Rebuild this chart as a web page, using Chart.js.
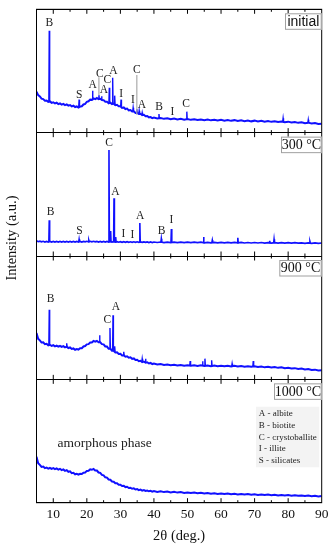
<!DOCTYPE html>
<html><head><meta charset="utf-8">
<script src="https://cdn.jsdelivr.net/npm/chart.js@4.4.1/dist/chart.umd.min.js"></script>
<style>html,body{margin:0;padding:0;background:#fff;}canvas{display:block;}</style>
</head><body>
<canvas id="c" width="335" height="550"></canvas>
<script>
// ---- data (intensity in arbitrary units, each panel 0..H) ----
const H = 123.35;
const xTicks = [10,20,30,40,50,60,70,80,90];
const minorTicks = [15,25,35,45,55,65,75,85];
const panelNames = ['1000 °C','900 °C','300 °C','initial']; // bottom -> top
const baseAngles = [5,5.5,6,6.5,7,7.5,8,8.5,9,9.5,10,10.5,11,11.5,12,12.5,13,13.5,14,14.5,15,15.5,16,16.5,17,17.5,18,18.5,19,19.5,20,20.5,21,21.5,22,22.5,23,23.5,24,24.5,25,25.5,26,26.5,27,27.5,28,28.5,29,29.5,30,30.5,31,31.5,32,32.5,33,33.5,34,34.5,35,35.5,36,36.5,37,37.5,38,38.5,39,39.5,40,
41,42,43,44,45,46,47,48,49,50,51,52,53,54,55,56,57,58,59,60,61,62,63,64,65,66,67,68,69,70,71,72,73,74,75,76,77,78,79,80,81,82,83,84,85,86,87,88,89,90];

const baseInitial = [41,37.5,36.2,34,33.6,32,32.2,30.8,31.2,29.8,30.4,29.2,29.9,28.6,29.3,28.1,28.8,27.6,28.3,27,27.6,26.3,26.9,25.6,26.2,25,26.1,26.4,28.2,28.8,30.9,31.4,33,32.8,34.2,33.5,34.6,33.4,33.9,32.6,32.5,30.9,31,29.4,30,28.6,29,27.5,27.9,26.3,26.4,24.8,25.2,23.6,24,22.3,22.6,21.1,21.4,19.8,20,18.6,18.9,17.5,17.8,16.4,16.6,15.3,15.6,14.5,15,
14.2,14.7,13.8,14.4,13.5,14.1,13.2,13.8,13,13.6,12.8,13.4,12.6,13.2,12.5,13.1,12.3,12.9,12.1,12.8,11.9,12.6,11.8,12.5,11.6,12.4,11.5,12.2,11.3,12,11.1,11.8,10.9,11.6,10.8,11.4,10.6,11.2,10.4,11,10.1,10.7,9.8,10.4,9.5,10,9.2,9.6,8.7,9];
const base300 = [15.2,14.3,14.8,14.1,14.7,14,14.6,14,14.6,14,14.6,13.9,14.5,13.9,14.5,13.9,14.5,13.9,14.5,13.9,14.5,13.9,14.5,13.9,14.5,14,14.6,14,14.6,14.1,14.7,14.1,14.7,14.1,14.7,14.1,14.6,14,14.6,14,14.5,13.9,14.5,13.9,14.5,13.9,14.4,13.8,14.4,13.8,14.3,13.7,14.3,13.7,14.3,13.7,14.2,13.7,14.2,13.6,14.2,13.6,14.1,13.6,14.1,13.6,14.1,13.5,14,13.5,14,
13.5,14,13.4,13.9,13.4,13.9,13.4,13.9,13.3,13.8,13.3,13.8,13.3,13.8,13.2,13.7,13.2,13.7,13.2,13.7,13.1,13.6,13.1,13.6,13.1,13.6,13,13.5,13,13.5,13,13.5,12.9,13.4,12.9,13.4,12.9,13.4,12.8,13.3,12.8,13.3,12.8,13.2,12.7,13.2,12.7,13.1,12.6,13];
const base900 = [46.3,40.5,39,36.8,37,35.2,35.5,34,34.6,33.4,34.1,33,33.8,32.7,33.5,32.4,33.2,32,32.7,31.3,31.9,30.4,30.9,29.6,30.3,29.8,31.1,31.2,32.9,33.3,35,35.2,36.9,36.8,38.4,37.6,38.5,37,37,35.2,35,32.9,32.8,30.6,30.8,28.6,28.5,26.8,27,25.3,25.5,23.8,24,22.6,23,21.6,22,20.5,20.9,19.3,19.6,18.2,18.6,17.3,17.8,16.6,17.1,15.9,16.4,15.3,15.8,
14.8,15.3,14.4,14.9,14.1,14.6,13.8,14.4,13.6,14.2,13.5,14.1,13.4,14,13.3,13.9,13.2,13.8,13.1,13.7,13,13.6,12.9,13.5,12.8,13.4,12.7,13.2,12.5,13,12.3,12.8,12,12.6,11.8,12.3,11.5,12,11.2,11.6,10.8,11.2,10.3,10.8,9.9,10.3,9.4,9.7,8.8,9.1];
const base1000 = [46,39.5,37.8,35.8,36.1,34.6,35.1,34,34.9,33.8,34.5,33.5,34.3,33.1,33.9,32.6,33.3,31.9,32.6,30.9,31.3,29.5,29.9,28.4,28.9,28,28.9,28.7,30,30.2,31.8,31.9,33.3,32.9,33.8,32.3,32.2,30.2,29.8,27.8,27.4,25.4,25.1,23.2,23,21.2,21,19.4,19.4,17.9,18,16.7,16.9,15.6,15.9,14.7,15,13.9,14.3,13.2,13.6,12.6,13.1,12.1,12.6,11.7,12.2,11.4,11.9,11.1,11.6,
10.8,11.4,10.6,11.1,10.3,10.9,10.1,10.6,9.8,10.3,9.6,10.1,9.4,9.9,9.2,9.7,9,9.5,8.8,9.3,8.6,9.1,8.4,8.9,8.3,8.8,8.1,8.6,7.9,8.4,7.8,8.3,7.6,8.1,7.5,8,7.3,7.8,7.2,7.6,7,7.5,6.9,7.3,6.7,7.1,6.5,6.9,6.3,6.7];

// peaks: angle, base, top
const pkInitialX = [8.8,17.7,21.7,23.6,24.4,26.7,27.7,28.3,30.2,33.8,34.9,35.6,36.5,41.5,49.8,78.5,86];
const pkInitialB = [31.5,25.5,33,33.8,33,30,29,28,26,21.3,20,19,17.8,14.4,13.3,11,10];
const pkInitialT = [102,33,42,37.5,36.5,45,55,37,33,24.8,23.5,22,20,18.7,21,14.3,12.8];
const pk300X = [8.8,17.7,20.6,26.6,27.1,28.1,28.6,35.8,42.2,45.2,54.8,57.4,65,74.5,75.8,86.5];
const pk300B = [14.3,14.2,14.2,14.2,14.2,14.1,14.1,14,13.9,13.8,13.6,13.6,13.4,13.2,13.2,13];
const pk300T = [35.7,16.7,15.6,106,25,57.7,19,33,17.3,27,19,15.8,18.3,15.2,16.7,14.5];
const pk900X = [8.8,14,23.8,26.9,27.8,28.3,31,36.5,37.5,50.8,54.5,55.2,57.2,63.3,69.6];
const pk900B = [34.5,32.7,37.5,30.8,29,28,24,17.5,17,14,14,13.8,13.5,13.2,12.8];
const pk900T = [69.7,36,44,51.3,64,33,27.5,20.5,20.5,18.3,18,20.7,19,15.7,18.3];

// gray connector lines (initial panel): angle, from, to
const connX = [23.6,34.9];
const connFrom = [55.4,57.7];
const connTo = [37.5,18];

// peak labels per panel
const lblInitial = {t:['B','S','A','C','A','C','A','I','I','C','A','B','I','C'],
  x:[8.8,17.7,21.7,23.9,25.1,26.1,27.9,30.2,33.7,34.9,36.4,41.5,45.5,49.6],
  y:[109.4,37.7,47.7,58.7,42.7,52.7,62,38.4,32.7,62.7,27.7,25.4,21,28.4]};
const lbl300 = {t:['B','S','C','A','I','I','A','B','I'],
  x:[9.2,17.8,26.6,28.5,30.9,33.6,35.9,42.3,45.2],
  y:[44.3,25,113.3,64.3,22.3,21,40,25,35.7]};
const lbl900 = {t:['B','C','A'], x:[9.2,26.1,28.7], y:[80.7,59,72.3]};
const amorph = {t:'amorphous phase', x:25.3, y:59.4};
const legendLines = ['A - albite','B - biotite','C - crystoballite','I - illite','S - silicates'];

// ---- build datasets ----
const BLUE = '#1010ff';
function lineData(base,k){ return baseAngles.map((a,i)=>({x:a,y:base[i]+k*H})); }
function peakData(px,pb,pt,k){
  const out=[];
  px.forEach((a,i)=>{ out.push({x:a-0.12,y:pb[i]+k*H},{x:a,y:pt[i]+k*H},{x:a+0.12,y:pb[i]+k*H},{x:a+0.12,y:null}); });
  return out;
}
function connData(k){
  const out=[];
  connX.forEach((a,i)=>{ out.push({x:a,y:connFrom[i]+k*H},{x:a,y:connTo[i]+k*H},{x:a,y:null}); });
  return out;
}
const ds = (data,color,w)=>({data,borderColor:color,borderWidth:w,pointRadius:0,fill:false,tension:0,spanGaps:false});
const datasets = [
  ds(lineData(base1000,0),BLUE,2),
  ds(lineData(base900,1),BLUE,2),
  ds(peakData(pk900X,pk900B,pk900T,1),BLUE,1.4),
  ds(lineData(base300,2),BLUE,1.7),
  ds(peakData(pk300X,pk300B,pk300T,2),BLUE,1.6),
  ds(connData(3),'#aaaaaa',1.2),
  ds(lineData(baseInitial,3),BLUE,2),
  ds(peakData(pkInitialX,pkInitialB,pkInitialT,3),BLUE,1.4)
];

const SERIF = '"Liberation Serif", "Times New Roman", serif';
const deco = {
  id:'deco',
  afterDraw(chart){
    const {ctx, chartArea:ca, scales:{x:xs,y:ys}} = chart;
    ctx.save();
    // frame
    ctx.strokeStyle='#000'; ctx.lineWidth=1;
    ctx.strokeRect(ca.left,ca.top,ca.right-ca.left,ca.bottom-ca.top);
    // inward ticks
    const tick=(v,len)=>{
      const px=xs.getPixelForValue(v);
      for(let k=0;k<=4;k++){
        const py=ys.getPixelForValue(k*H);
        ctx.beginPath();
        if(k<4){ctx.moveTo(px,py);ctx.lineTo(px,py-len);}
        if(k>0){ctx.moveTo(px,py);ctx.lineTo(px,py+len);}
        ctx.stroke();
      }
    };
    xTicks.forEach(v=>{ if(v<90) tick(v,4.5); });
    minorTicks.forEach(v=>tick(v,2.5));
    // peak labels
    ctx.fillStyle='#222'; ctx.textAlign='center'; ctx.textBaseline='middle';
    ctx.font='11.5px '+SERIF;
    const drawLbl=(L,k)=>L.t.forEach((t,i)=>ctx.fillText(t,xs.getPixelForValue(L.x[i]),ys.getPixelForValue(L.y[i]+k*H)));
    drawLbl(lblInitial,3); drawLbl(lbl300,2); drawLbl(lbl900,1);
    ctx.font='13.5px '+SERIF;
    ctx.fillText(amorph.t,xs.getPixelForValue(amorph.x),ys.getPixelForValue(amorph.y));
    // panel name boxes
    const widths=[47.7,42.4,40.7,36.7];
    panelNames.forEach((n,k)=>{
      const top=ys.getPixelForValue((k+1)*H)+4;
      const w=widths[k], h=16.5, left=ca.right-w;
      ctx.fillStyle='#fff'; ctx.fillRect(left,top,w,h);
      ctx.strokeStyle='#a0a0a0'; ctx.strokeRect(left+0.5,top+0.5,w-1,h-1);
      ctx.fillStyle='#111';
      ctx.font = (k===3 ? '14px "Liberation Sans", Arial, sans-serif' : '14px '+SERIF);
      ctx.fillText(n,left+w/2,top+h/2+0.5);
    });
    // legend box
    ctx.fillStyle='#f3f3f3'; ctx.fillRect(256,406.7,63.3,60.6);
    ctx.fillStyle='#222'; ctx.textAlign='left'; ctx.font='9px '+SERIF;
    legendLines.forEach((t,i)=>ctx.fillText(t,258.7,414+i*11.7));
    // y axis title
    ctx.save(); ctx.translate(12.5,238); ctx.rotate(-Math.PI/2);
    ctx.textAlign='center'; ctx.fillStyle='#111'; ctx.font='14.5px '+SERIF;
    ctx.fillText('Intensity (a.u.)',0,0); ctx.restore();
    ctx.restore();
  }
};

new Chart(document.getElementById('c'),{
  type:'line',
  data:{datasets},
  options:{
    responsive:false, animation:false, devicePixelRatio:1,
    layout:{padding:{left:0,right:13.3,top:9.3,bottom:0}},
    plugins:{legend:{display:false},tooltip:{enabled:false}},
    scales:{
      x:{type:'linear',min:5,max:90,
        afterBuildTicks:s=>{s.ticks=xTicks.map(v=>({value:v}));},
        afterFit:s=>{s.height=47.3;},
        grid:{display:false,drawTicks:false},
        border:{display:true,color:'#000'},
        ticks:{padding:3.5,color:'#111',maxRotation:0,autoSkip:false,font:{family:SERIF,size:13.5}},
        title:{display:true,text:'2θ (deg.)',color:'#111',font:{family:SERIF,size:14.5},padding:{top:0,bottom:4.9}}
      },
      y:{min:0,max:4*H,
        afterBuildTicks:s=>{s.ticks=[0,H,2*H,3*H,4*H].map(v=>({value:v}));},
        afterFit:s=>{s.width=36.5;},
        grid:{color:'#000',lineWidth:1,drawTicks:false},
        border:{display:true,color:'#000'},
        ticks:{display:false}
      }
    }
  },
  plugins:[deco]
});
</script>
</body></html>
